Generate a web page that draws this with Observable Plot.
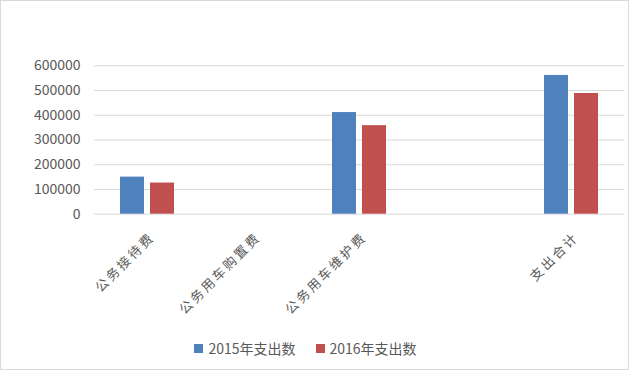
<!DOCTYPE html>
<html>
<head>
<meta charset="utf-8">
<script src="https://cdn.jsdelivr.net/npm/d3@7"></script>
<script src="https://cdn.jsdelivr.net/npm/@observablehq/plot@0.6"></script>
<style>
  html, body { margin: 0; padding: 0; background: #fff; }
  #frame {
    width: 627px; height: 368px; border: 1px solid #d9d9d9; position: relative;
    font-family: "Noto Sans CJK SC", "Noto Sans", sans-serif; background: #fff;
  }
  #chart svg { display: block; }
  #chart g[aria-label="fx-axis tick label"] text { letter-spacing: 2.5px; }
  #legend {
    display: flex; justify-content: center; align-items: center;
    margin-top: 7px; padding-right: 18px; height: 20px;
    font-size: 14px; color: #595959;
  }
  .item { display: flex; align-items: center; margin: 0 10px; }
  .sw { width: 9px; height: 9px; margin-right: 5px; }
</style>
</head>
<body>
<div id="frame">
  <div id="chart"></div>
  <div id="legend"></div>
</div>
<script>
const categories = ["公务接待费", "公务用车购置费", "公务用车维护费", " ", "支出合计"];
const seriesNames = ["2015年支出数", "2016年支出数"];
const values2015 = [150000, 0, 411000, 0, 561000];
const values2016 = [126000, 0, 358000, 0, 488000];
const yTicks = [0, 100000, 200000, 300000, 400000, 500000, 600000];
const colors = ["#4f81bd", "#c0504d"];

const rows = [];
categories.forEach((c, i) => {
  [values2015, values2016].forEach((vals, j) => {
    rows.push({cat: c, series: seriesNames[j], value: vals[i]});
  });
});

const chart = Plot.plot({
  width: 627,
  height: 330,
  marginLeft: 91,
  marginRight: 2,
  marginTop: 64.3,
  marginBottom: 117.3,
  style: {fontFamily: '"Noto Sans CJK SC", "Noto Sans", sans-serif', background: "#fff"},
  fx: {domain: categories, padding: 0, label: null},
  x: {domain: seriesNames, axis: null, paddingInner: 0.216, paddingOuter: 0.853},
  y: {domain: [0, 600000], axis: null},
  color: {domain: seriesNames, range: colors},
  marks: [
    Plot.gridY(yTicks, {stroke: "#d9d9d9", strokeOpacity: 1, strokeWidth: 1}),
    Plot.axisY(yTicks, {tickSize: 0, tickPadding: 14, tickFormat: d => String(d), fontSize: 14, fill: "#595959", label: null}),
    Plot.barY(rows, {fx: "cat", x: "series", y: "value", fill: "series"}),
    Plot.axisFx({anchor: "bottom", tickRotate: -45, tickSize: 0, tickPadding: 10, dx: 5, dy: 11, fontSize: 13, fill: "#595959", label: null})
  ]
});
document.getElementById("chart").appendChild(chart);

const legend = document.getElementById("legend");
seriesNames.forEach((s, i) => {
  const item = document.createElement("div");
  item.className = "item";
  const sw = document.createElement("div");
  sw.className = "sw";
  sw.style.background = colors[i];
  const t = document.createElement("span");
  t.textContent = s;
  item.appendChild(sw);
  item.appendChild(t);
  legend.appendChild(item);
});
</script>
</body>
</html>
